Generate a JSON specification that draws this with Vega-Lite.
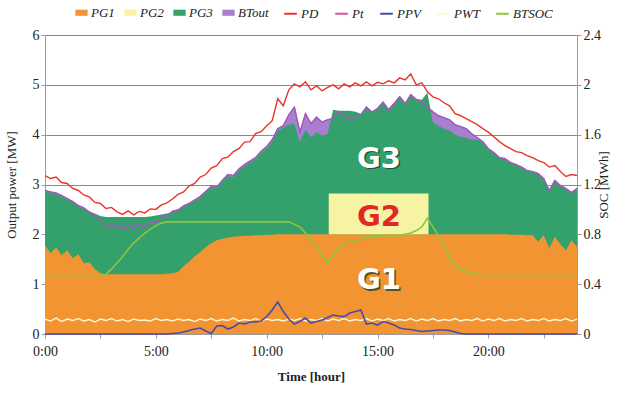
{
  "$schema": "https://vega.github.io/schema/vega-lite/v6.json",
  "width": 532,
  "height": 299,
  "autosize": {"type": "none"},
  "padding": {"left": 45, "top": 35, "right": 50, "bottom": 60},
  "background": "white",
  "config": {
    "font": "Liberation Serif",
    "style": {"guide-label": {"font": "Liberation Serif"}, "guide-title": {"font": "Liberation Serif"}},
    "view": {"stroke": "#9a9a9a", "strokeWidth": 1},
    "axis": {"labelFont": "Liberation Serif", "titleFont": "Liberation Serif", "labelFontSize": 14, "titleFontSize": 13, "labelColor": "#222", "titleColor": "#222", "titleFontWeight": "normal", "domainColor": "#9a9a9a", "tickColor": "#9a9a9a", "tickSize": 4},
    "legend": {"labelFont": "Liberation Serif", "labelFontSize": 13, "labelColor": "#222"}
  },
  "data": {"values": [
    {"t":0,"g1":1.78,"g3":2.86,"tot":2.88,"pd":3.18,"wt":0.30,"pv":0,"soc":0.47},
    {"t":0.25,"g1":1.62,"g3":2.84,"tot":2.85,"pd":3.12,"wt":0.26,"pv":0,"soc":0.47},
    {"t":0.5,"g1":1.74,"g3":2.81,"tot":2.83,"pd":3.15,"wt":0.32,"pv":0,"soc":0.47},
    {"t":0.75,"g1":1.58,"g3":2.76,"tot":2.78,"pd":3.04,"wt":0.25,"pv":0,"soc":0.47},
    {"t":1,"g1":1.68,"g3":2.70,"tot":2.72,"pd":3.02,"wt":0.30,"pv":0,"soc":0.47},
    {"t":1.25,"g1":1.52,"g3":2.65,"tot":2.66,"pd":2.92,"wt":0.27,"pv":0,"soc":0.47},
    {"t":1.5,"g1":1.60,"g3":2.57,"tot":2.58,"pd":2.88,"wt":0.31,"pv":0,"soc":0.47},
    {"t":1.75,"g1":1.42,"g3":2.52,"tot":2.53,"pd":2.79,"wt":0.26,"pv":0,"soc":0.47},
    {"t":2,"g1":1.44,"g3":2.46,"tot":2.45,"pd":2.75,"wt":0.29,"pv":0,"soc":0.47},
    {"t":2.25,"g1":1.30,"g3":2.42,"tot":2.38,"pd":2.64,"wt":0.24,"pv":0,"soc":0.47},
    {"t":2.5,"g1":1.22,"g3":2.37,"tot":2.28,"pd":2.62,"wt":0.30,"pv":0,"soc":0.47},
    {"t":2.75,"g1":1.20,"g3":2.35,"tot":2.18,"pd":2.52,"wt":0.27,"pv":0,"soc":0.48},
    {"t":3,"g1":1.20,"g3":2.35,"tot":2.14,"pd":2.54,"wt":0.31,"pv":0,"soc":0.52},
    {"t":3.25,"g1":1.20,"g3":2.35,"tot":2.20,"pd":2.45,"wt":0.26,"pv":0,"soc":0.57},
    {"t":3.5,"g1":1.20,"g3":2.35,"tot":2.10,"pd":2.40,"wt":0.29,"pv":0,"soc":0.62},
    {"t":3.75,"g1":1.20,"g3":2.35,"tot":2.19,"pd":2.47,"wt":0.25,"pv":0,"soc":0.68},
    {"t":4,"g1":1.20,"g3":2.35,"tot":2.12,"pd":2.39,"wt":0.30,"pv":0,"soc":0.73},
    {"t":4.25,"g1":1.20,"g3":2.35,"tot":2.20,"pd":2.46,"wt":0.27,"pv":0,"soc":0.77},
    {"t":4.5,"g1":1.20,"g3":2.35,"tot":2.15,"pd":2.43,"wt":0.28,"pv":0,"soc":0.81},
    {"t":4.75,"g1":1.20,"g3":2.36,"tot":2.24,"pd":2.51,"wt":0.26,"pv":0,"soc":0.84},
    {"t":5,"g1":1.20,"g3":2.38,"tot":2.22,"pd":2.50,"wt":0.31,"pv":0,"soc":0.87},
    {"t":5.25,"g1":1.20,"g3":2.40,"tot":2.33,"pd":2.59,"wt":0.27,"pv":0,"soc":0.89},
    {"t":5.5,"g1":1.21,"g3":2.42,"tot":2.37,"pd":2.63,"wt":0.29,"pv":0,"soc":0.90},
    {"t":5.75,"g1":1.22,"g3":2.45,"tot":2.46,"pd":2.71,"wt":0.26,"pv":0.01,"soc":0.90},
    {"t":6,"g1":1.25,"g3":2.48,"tot":2.49,"pd":2.80,"wt":0.30,"pv":0.02,"soc":0.90},
    {"t":6.25,"g1":1.36,"g3":2.56,"tot":2.57,"pd":2.85,"wt":0.27,"pv":0.04,"soc":0.90},
    {"t":6.5,"g1":1.45,"g3":2.61,"tot":2.62,"pd":2.97,"wt":0.29,"pv":0.07,"soc":0.90},
    {"t":6.75,"g1":1.56,"g3":2.68,"tot":2.69,"pd":3.02,"wt":0.25,"pv":0.10,"soc":0.90},
    {"t":7,"g1":1.64,"g3":2.74,"tot":2.76,"pd":3.15,"wt":0.30,"pv":0.12,"soc":0.90},
    {"t":7.25,"g1":1.74,"g3":2.84,"tot":2.86,"pd":3.20,"wt":0.27,"pv":0.06,"soc":0.90},
    {"t":7.5,"g1":1.82,"g3":2.94,"tot":2.96,"pd":3.33,"wt":0.31,"pv":0.01,"soc":0.90},
    {"t":7.75,"g1":1.88,"g3":2.93,"tot":2.95,"pd":3.38,"wt":0.26,"pv":0.16,"soc":0.90},
    {"t":8,"g1":1.91,"g3":3.05,"tot":3.08,"pd":3.52,"wt":0.29,"pv":0.17,"soc":0.90},
    {"t":8.25,"g1":1.93,"g3":3.17,"tot":3.20,"pd":3.55,"wt":0.27,"pv":0.10,"soc":0.90},
    {"t":8.5,"g1":1.95,"g3":3.15,"tot":3.18,"pd":3.66,"wt":0.32,"pv":0.14,"soc":0.90},
    {"t":8.75,"g1":1.96,"g3":3.28,"tot":3.31,"pd":3.72,"wt":0.26,"pv":0.22,"soc":0.90},
    {"t":9,"g1":1.97,"g3":3.37,"tot":3.40,"pd":3.85,"wt":0.29,"pv":0.20,"soc":0.90},
    {"t":9.25,"g1":1.97,"g3":3.44,"tot":3.47,"pd":3.86,"wt":0.27,"pv":0.24,"soc":0.90},
    {"t":9.5,"g1":1.98,"g3":3.51,"tot":3.54,"pd":4.02,"wt":0.31,"pv":0.24,"soc":0.90},
    {"t":9.75,"g1":1.98,"g3":3.63,"tot":3.67,"pd":4.06,"wt":0.26,"pv":0.26,"soc":0.90},
    {"t":10,"g1":1.99,"g3":3.72,"tot":3.76,"pd":4.18,"wt":0.30,"pv":0.35,"soc":0.90},
    {"t":10.25,"g1":1.99,"g3":3.86,"tot":3.90,"pd":4.28,"wt":0.27,"pv":0.48,"soc":0.90},
    {"t":10.5,"g1":2.00,"g3":4.08,"tot":4.12,"pd":4.72,"wt":0.29,"pv":0.64,"soc":0.90},
    {"t":10.75,"g1":2.00,"g3":4.14,"tot":4.18,"pd":4.58,"wt":0.26,"pv":0.45,"soc":0.90},
    {"t":11,"g1":2.00,"g3":4.20,"tot":4.40,"pd":4.90,"wt":0.30,"pv":0.30,"soc":0.90},
    {"t":11.25,"g1":2.00,"g3":4.22,"tot":4.55,"pd":5.02,"wt":0.27,"pv":0.20,"soc":0.88},
    {"t":11.5,"g1":2.00,"g3":3.86,"tot":4.05,"pd":4.96,"wt":0.31,"pv":0.25,"soc":0.86},
    {"t":11.75,"g1":2.00,"g3":4.10,"tot":4.42,"pd":5.06,"wt":0.26,"pv":0.32,"soc":0.81},
    {"t":12,"g1":2.00,"g3":3.95,"tot":4.22,"pd":4.90,"wt":0.29,"pv":0.22,"soc":0.75},
    {"t":12.25,"g1":2.00,"g3":4.05,"tot":4.35,"pd":4.98,"wt":0.27,"pv":0.25,"soc":0.69},
    {"t":12.5,"g1":2.00,"g3":3.98,"tot":4.25,"pd":4.88,"wt":0.31,"pv":0.28,"soc":0.63},
    {"t":12.75,"g1":2.00,"g3":4.02,"tot":4.30,"pd":4.95,"wt":0.26,"pv":0.33,"soc":0.57},
    {"t":13,"g1":2.00,"g3":4.50,"tot":4.32,"pd":5.00,"wt":0.30,"pv":0.38,"soc":0.63},
    {"t":13.25,"g1":2.00,"g3":4.48,"tot":4.46,"pd":4.92,"wt":0.27,"pv":0.36,"soc":0.69},
    {"t":13.5,"g1":2.00,"g3":4.48,"tot":4.38,"pd":5.02,"wt":0.31,"pv":0.35,"soc":0.72},
    {"t":13.75,"g1":2.00,"g3":4.48,"tot":4.30,"pd":4.96,"wt":0.26,"pv":0.42,"soc":0.74},
    {"t":14,"g1":2.00,"g3":4.46,"tot":4.36,"pd":5.04,"wt":0.29,"pv":0.45,"soc":0.75},
    {"t":14.25,"g1":2.00,"g3":4.42,"tot":4.40,"pd":4.98,"wt":0.27,"pv":0.48,"soc":0.76},
    {"t":14.5,"g1":2.00,"g3":4.57,"tot":4.55,"pd":5.06,"wt":0.31,"pv":0.20,"soc":0.78},
    {"t":14.75,"g1":2.00,"g3":4.47,"tot":4.45,"pd":4.98,"wt":0.26,"pv":0.22,"soc":0.78},
    {"t":15,"g1":2.00,"g3":4.54,"tot":4.52,"pd":5.05,"wt":0.30,"pv":0.18,"soc":0.78},
    {"t":15.25,"g1":2.00,"g3":4.67,"tot":4.65,"pd":5.02,"wt":0.27,"pv":0.25,"soc":0.79},
    {"t":15.5,"g1":2.00,"g3":4.52,"tot":4.50,"pd":5.08,"wt":0.31,"pv":0.22,"soc":0.79},
    {"t":15.75,"g1":2.00,"g3":4.64,"tot":4.62,"pd":5.04,"wt":0.26,"pv":0.18,"soc":0.79},
    {"t":16,"g1":2.00,"g3":4.78,"tot":4.76,"pd":5.14,"wt":0.29,"pv":0.12,"soc":0.79},
    {"t":16.25,"g1":2.00,"g3":4.64,"tot":4.62,"pd":5.10,"wt":0.27,"pv":0.10,"soc":0.80},
    {"t":16.5,"g1":2.00,"g3":4.82,"tot":4.80,"pd":5.22,"wt":0.31,"pv":0.09,"soc":0.81},
    {"t":16.75,"g1":2.00,"g3":4.72,"tot":4.70,"pd":5.00,"wt":0.26,"pv":0.07,"soc":0.83},
    {"t":17,"g1":2.00,"g3":4.70,"tot":4.66,"pd":5.04,"wt":0.30,"pv":0.05,"soc":0.86},
    {"t":17.25,"g1":2.00,"g3":4.84,"tot":4.55,"pd":4.86,"wt":0.27,"pv":0.06,"soc":0.93},
    {"t":17.5,"g1":2.00,"g3":4.25,"tot":4.46,"pd":4.76,"wt":0.31,"pv":0.07,"soc":0.86},
    {"t":17.75,"g1":2.00,"g3":4.18,"tot":4.38,"pd":4.72,"wt":0.26,"pv":0.08,"soc":0.79},
    {"t":18,"g1":2.00,"g3":4.12,"tot":4.34,"pd":4.64,"wt":0.29,"pv":0.08,"soc":0.71},
    {"t":18.25,"g1":2.00,"g3":4.08,"tot":4.30,"pd":4.58,"wt":0.27,"pv":0.07,"soc":0.61},
    {"t":18.5,"g1":2.00,"g3":4.00,"tot":4.20,"pd":4.42,"wt":0.31,"pv":0.04,"soc":0.55},
    {"t":18.75,"g1":2.00,"g3":3.96,"tot":4.16,"pd":4.38,"wt":0.26,"pv":0.01,"soc":0.52},
    {"t":19,"g1":2.00,"g3":3.94,"tot":4.12,"pd":4.32,"wt":0.29,"pv":0,"soc":0.50},
    {"t":19.25,"g1":2.00,"g3":3.90,"tot":4.02,"pd":4.26,"wt":0.27,"pv":0,"soc":0.49},
    {"t":19.5,"g1":2.00,"g3":3.90,"tot":3.94,"pd":4.20,"wt":0.31,"pv":0,"soc":0.48},
    {"t":19.75,"g1":2.00,"g3":3.85,"tot":3.86,"pd":4.12,"wt":0.26,"pv":0,"soc":0.47},
    {"t":20,"g1":2.00,"g3":3.71,"tot":3.72,"pd":4.05,"wt":0.30,"pv":0,"soc":0.47},
    {"t":20.25,"g1":2.00,"g3":3.63,"tot":3.64,"pd":3.96,"wt":0.27,"pv":0,"soc":0.47},
    {"t":20.5,"g1":2.00,"g3":3.53,"tot":3.54,"pd":3.86,"wt":0.31,"pv":0,"soc":0.47},
    {"t":20.75,"g1":2.00,"g3":3.51,"tot":3.52,"pd":3.78,"wt":0.26,"pv":0,"soc":0.47},
    {"t":21,"g1":1.99,"g3":3.43,"tot":3.44,"pd":3.72,"wt":0.29,"pv":0,"soc":0.47},
    {"t":21.25,"g1":1.99,"g3":3.39,"tot":3.40,"pd":3.66,"wt":0.27,"pv":0,"soc":0.47},
    {"t":21.5,"g1":1.99,"g3":3.34,"tot":3.35,"pd":3.64,"wt":0.31,"pv":0,"soc":0.47},
    {"t":21.75,"g1":1.98,"g3":3.27,"tot":3.28,"pd":3.58,"wt":0.26,"pv":0,"soc":0.47},
    {"t":22,"g1":1.98,"g3":3.25,"tot":3.26,"pd":3.54,"wt":0.29,"pv":0,"soc":0.47},
    {"t":22.25,"g1":1.85,"g3":3.21,"tot":3.22,"pd":3.48,"wt":0.27,"pv":0,"soc":0.47},
    {"t":22.5,"g1":1.98,"g3":3.11,"tot":3.12,"pd":3.44,"wt":0.31,"pv":0,"soc":0.47},
    {"t":22.75,"g1":1.72,"g3":2.87,"tot":2.88,"pd":3.35,"wt":0.26,"pv":0,"soc":0.47},
    {"t":23,"g1":1.95,"g3":3.07,"tot":3.08,"pd":3.38,"wt":0.29,"pv":0,"soc":0.47},
    {"t":23.25,"g1":1.80,"g3":2.97,"tot":2.98,"pd":3.26,"wt":0.27,"pv":0,"soc":0.47},
    {"t":23.5,"g1":1.68,"g3":2.91,"tot":2.92,"pd":3.16,"wt":0.31,"pv":0,"soc":0.47},
    {"t":23.75,"g1":1.88,"g3":2.83,"tot":2.84,"pd":3.20,"wt":0.26,"pv":0,"soc":0.47},
    {"t":24,"g1":1.75,"g3":2.91,"tot":2.92,"pd":3.18,"wt":0.30,"pv":0,"soc":0.47}
  ]},
  "encoding": {
    "x": {"field": "t", "type": "quantitative",
      "scale": {"domain": [0, 24], "nice": false},
      "axis": {"title": "Time [hour]", "values": [0, 2.5, 5, 7.5, 10, 12.5, 15, 17.5, 20, 22.5],
        "labelExpr": "datum.value % 5 === 0 ? floor(datum.value) + ':00' : ''",
        "labelFont": "Liberation Serif", "titleFont": "Liberation Serif",
        "grid": false, "labelPadding": 6, "titlePadding": 12, "titleFontWeight": "bold", "labelFlush": false}}
  },
  "layer": [
    {
      "layer": [
        {"mark": {"type": "area", "interpolate": "linear"},
         "encoding": {"y": {"field": "tot", "type": "quantitative", "stack": null,
            "scale": {"domain": [0, 6], "nice": false},
            "axis": {"title": "Output power [MW]", "values": [0, 1, 2, 3, 4, 5, 6], "grid": true, "gridColor": "#8a8a8a", "gridWidth": 1, "titlePadding": 14, "labelFont": "Liberation Serif", "titleFont": "Liberation Serif"}},
           "fill": {"datum": "BTout", "type": "nominal",
             "scale": {"domain": ["PG1", "PG2", "PG3", "BTout"], "range": ["#f39433", "#f6f3a2", "#34a06c", "#a77fcf"]},
             "legend": {"orient": "none", "direction": "horizontal", "legendX": 30, "legendY": -29, "title": null,
               "labelFont": "Liberation Serif", "labelFontStyle": "italic", "labelFontSize": 13,
               "symbolType": "M-1,-0.5H1V0.5H-1Z", "symbolSize": 150, "symbolStrokeWidth": 0, "columnPadding": 9, "labelOffset": 3}}}},
        {"mark": {"type": "area", "interpolate": "linear"},
         "encoding": {"y": {"field": "g3", "type": "quantitative", "stack": null},
           "fill": {"datum": "PG3", "type": "nominal"}}},
        {"mark": {"type": "area", "interpolate": "linear"},
         "encoding": {"y": {"field": "g1", "type": "quantitative", "stack": null},
           "fill": {"datum": "PG1", "type": "nominal"}}},
        {"data": {"values": [{"start": 12.8, "end": 17.3, "lo": 2.0, "hi": 2.82}]},
         "mark": {"type": "rect"},
         "encoding": {"x": {"field": "start", "type": "quantitative"}, "x2": {"field": "end"},
           "y": {"field": "lo", "type": "quantitative"}, "y2": {"field": "hi"},
           "fill": {"datum": "PG2", "type": "nominal"}}},
        {"mark": {"type": "line", "strokeWidth": 1.2},
         "encoding": {"y": {"field": "tot", "type": "quantitative"},
           "stroke": {"datum": "Pt", "type": "nominal",
             "scale": {"domain": ["PD", "Pt", "PPV", "PWT", "BTSOC"], "range": ["#e8352b", "#d8519e", "#4b4aa6", "#fff6d2", "#8cc63f"]},
             "legend": {"orient": "none", "direction": "horizontal", "legendX": 238, "legendY": -29, "title": null,
               "labelFont": "Liberation Serif", "labelFontStyle": "italic", "labelFontSize": 13,
               "symbolType": "stroke", "symbolSize": 160, "symbolStrokeWidth": 2, "columnPadding": 12, "labelOffset": 3}}}},
        {"mark": {"type": "line", "strokeWidth": 1.3, "color": "#9a5cc4"},
         "encoding": {"y": {"field": "tot", "type": "quantitative"}}},
        {"mark": {"type": "line", "strokeWidth": 1.4},
         "encoding": {"y": {"field": "pd", "type": "quantitative"},
           "stroke": {"datum": "PD", "type": "nominal"}}},
        {"mark": {"type": "line", "strokeWidth": 1.4},
         "encoding": {"y": {"field": "wt", "type": "quantitative"},
           "stroke": {"datum": "PWT", "type": "nominal"}}},
        {"mark": {"type": "line", "strokeWidth": 1.6},
         "encoding": {"y": {"field": "pv", "type": "quantitative"},
           "stroke": {"datum": "PPV", "type": "nominal"}}},
        {"data": {"values": [{"t": 15.07, "v": 3.52, "label": "G3"}, {"t": 15.07, "v": 1.08, "label": "G1"}]},
         "mark": {"type": "text", "font": "DejaVu Sans", "fontWeight": "bold", "fontSize": 29, "color": "#0d3a22", "opacity": 0.7, "dx": 1.5, "dy": 1.5, "align": "center", "baseline": "middle"},
         "encoding": {"y": {"field": "v", "type": "quantitative"}, "text": {"field": "label"}}},
        {"data": {"values": [{"t": 15.07, "v": 3.52, "label": "G3"}, {"t": 15.07, "v": 1.08, "label": "G1"}]},
         "mark": {"type": "text", "font": "DejaVu Sans", "fontWeight": "bold", "fontSize": 29, "color": "white", "align": "center", "baseline": "middle"},
         "encoding": {"y": {"field": "v", "type": "quantitative"}, "text": {"field": "label"}}},
        {"data": {"values": [{"t": 15.07, "v": 2.34, "label": "G2"}]},
         "mark": {"type": "text", "font": "DejaVu Sans", "fontWeight": "bold", "fontSize": 29, "color": "#e3262a", "align": "center", "baseline": "middle"},
         "encoding": {"y": {"field": "v", "type": "quantitative"}, "text": {"field": "label"}}}
      ]
    },
    {
      "mark": {"type": "line", "strokeWidth": 1.6},
      "encoding": {
        "y": {"field": "soc", "type": "quantitative",
          "scale": {"domain": [0, 2.4], "nice": false},
          "axis": {"orient": "right", "title": "SOC [MWh]", "values": [0, 0.4, 0.8, 1.2, 1.6, 2, 2.4], "format": ".1~f", "grid": false, "titleAngle": 270, "titlePadding": 10, "titleBaseline": "bottom", "labelFont": "Liberation Serif", "titleFont": "Liberation Serif"}},
        "stroke": {"datum": "BTSOC", "type": "nominal"}
      }
    }
  ],
  "resolve": {"scale": {"y": "independent"}}
}
